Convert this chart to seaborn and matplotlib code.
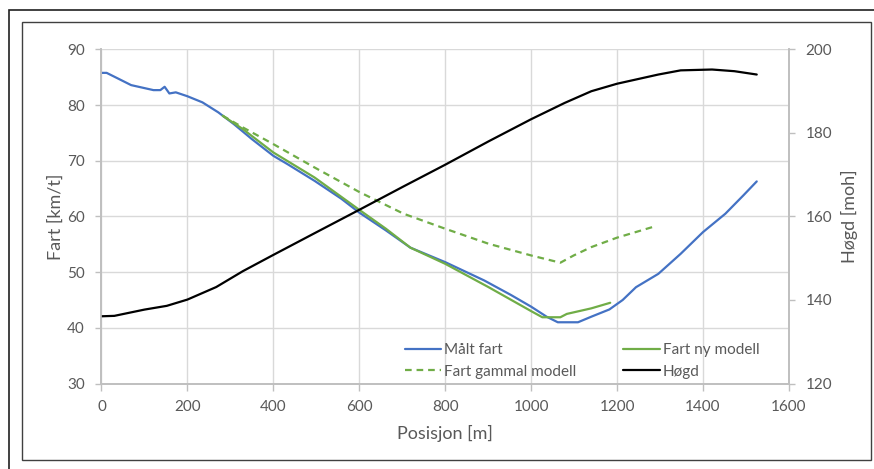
import matplotlib
matplotlib.use("Agg")
import matplotlib.pyplot as plt
from matplotlib.patches import Rectangle
import seaborn as sns
import pandas as pd

# Measured speed along the track
maalt_pos = [0, 12, 38, 69, 121, 137, 147, 158, 173, 200, 235, 272, 308, 350, 400,
             433, 496, 558, 600, 662, 719, 800, 891, 953, 1000, 1036, 1062, 1109,
             1140, 1182, 1213, 1244, 1296, 1348, 1400, 1452, 1494, 1525]
maalt_fart = [85.8, 85.8, 84.8, 83.6, 82.7, 82.7, 83.3, 82.1, 82.3, 81.6, 80.5, 78.7,
              76.6, 73.9, 70.9, 69.4, 66.4, 63.2, 60.7, 57.5, 54.4, 51.8, 48.5, 45.9,
              43.8, 42.0, 41.0, 41.0, 42.0, 43.3, 45.0, 47.3, 49.7, 53.3, 57.2, 60.5,
              63.8, 66.3]

# New model
ny_pos = [282, 329, 400, 496, 600, 662, 719, 800, 901, 1000, 1026, 1068, 1083, 1140, 1184]
ny_fart = [78.1, 75.7, 71.5, 67.0, 61.2, 57.8, 54.4, 51.5, 47.3, 43.0, 41.9, 41.9,
           42.5, 43.5, 44.5]

# Old model
gammal_pos = [282, 329, 400, 496, 600, 703, 800, 901, 1000, 1068, 1099, 1140, 1200, 1291]
gammal_fart = [78.1, 76.0, 73.0, 68.8, 64.4, 60.5, 57.8, 55.1, 53.0, 51.7, 53.0,
               54.5, 56.2, 58.3]

# Elevation profile (right axis)
hogd_pos = [0, 30, 100, 152, 200, 267, 329, 400, 496, 600, 703, 800, 901, 1000, 1078,
            1140, 1200, 1296, 1348, 1421, 1473, 1525]
hogd = [136.1, 136.2, 137.7, 138.6, 140.1, 143.1, 146.9, 150.8, 156.0, 161.6, 167.2,
        172.4, 178.0, 183.3, 187.2, 190.0, 191.8, 194.0, 195.0, 195.2, 194.8, 194.0]

x_ticks = [0, 200, 400, 600, 800, 1000, 1200, 1400, 1600]
left_ticks = [30, 40, 50, 60, 70, 80, 90]
right_ticks = [120, 140, 160, 180, 200]

BLUE = "#4472C4"
GREEN = "#70AD47"
GRID = "#D9D9D9"
AXIS = "#BFBFBF"
TEXT = "#595959"

sns.set_theme(style="white")
plt.rcParams["font.family"] = ["Lato", "DejaVu Sans"]

fig = plt.figure(figsize=(8.74, 4.69), dpi=100)
ax = fig.add_axes([0.1161, 0.1823, 0.9027 - 0.1161, 0.8945 - 0.1823])
ax2 = ax.twinx()

df_m = pd.DataFrame({"pos": maalt_pos, "v": maalt_fart})
df_n = pd.DataFrame({"pos": ny_pos, "v": ny_fart})
df_g = pd.DataFrame({"pos": gammal_pos, "v": gammal_fart})
df_h = pd.DataFrame({"pos": hogd_pos, "h": hogd})

lw = 1.6
sns.lineplot(data=df_m, x="pos", y="v", ax=ax, color=BLUE, lw=lw, label="Målt fart",
             sort=False, legend=False)
sns.lineplot(data=df_n, x="pos", y="v", ax=ax, color=GREEN, lw=lw, label="Fart ny modell",
             sort=False, legend=False)
sns.lineplot(data=df_g, x="pos", y="v", ax=ax, color=GREEN, lw=lw,
             label="Fart gammal modell", sort=False, legend=False)
ax.lines[-1].set_dashes([3, 2.2])
sns.lineplot(data=df_h, x="pos", y="h", ax=ax2, color="black", lw=lw, label="Høgd",
             sort=False, legend=False)

ax.set_xlim(0, 1600)
ax.set_ylim(30, 90)
ax2.set_ylim(120, 200)
ax.set_xticks(x_ticks)
ax.set_yticks(left_ticks)
ax2.set_yticks(right_ticks)

ax.grid(True, color=GRID, lw=1.0)
ax.set_axisbelow(True)
ax2.grid(False)

for a in (ax, ax2):
    a.spines["top"].set_visible(False)
    for side in ("left", "right", "bottom"):
        a.spines[side].set_color(AXIS)
        a.spines[side].set_linewidth(1.2)

ax.tick_params(axis="x", colors=AXIS, labelcolor=TEXT, labelsize=11, length=5,
               width=1, direction="out", pad=7, bottom=True)
ax.tick_params(axis="y", colors=AXIS, labelcolor=TEXT, labelsize=11, length=4,
               width=1, direction="out", pad=8, left=True)
ax2.tick_params(axis="y", colors=AXIS, labelcolor=TEXT, labelsize=11, length=4,
                width=1, direction="out", pad=8, right=True)

ax.set_xlabel("Posisjon [m]", color=TEXT, fontsize=13, labelpad=8)
ax.set_ylabel("Fart [km/t]", color=TEXT, fontsize=13, labelpad=2)
ax2.set_ylabel("Høgd [moh]", color=TEXT, fontsize=13, labelpad=6)

handles = [ax.lines[0], ax.lines[2], ax.lines[1], ax2.lines[0]]
labels = ["Målt fart", "Fart gammal modell", "Fart ny modell", "Høgd"]
leg = ax.legend(handles, labels, ncol=2, frameon=False, loc="upper left",
                bbox_to_anchor=(0.441, 0.121), borderaxespad=0, borderpad=0,
                handlelength=2.4, handletextpad=0.2, columnspacing=3.05,
                labelspacing=0.5, fontsize=11)
for t in leg.get_texts():
    t.set_color(TEXT)

# Chart frame and outer page border
W, H = 874, 469
fig.patches.append(Rectangle((22 / W, 1 - 460 / H), (871 - 22) / W, (460 - 22) / H,
                             transform=fig.transFigure, fill=False,
                             edgecolor="#404040", lw=1.0))
fig.patches.append(Rectangle((9 / W, -0.05), 1.0, 1 - 10 / H + 0.05,
                             transform=fig.transFigure, fill=False,
                             edgecolor="#202020", lw=1.2))

fig.savefig("out.png", dpi=100)
